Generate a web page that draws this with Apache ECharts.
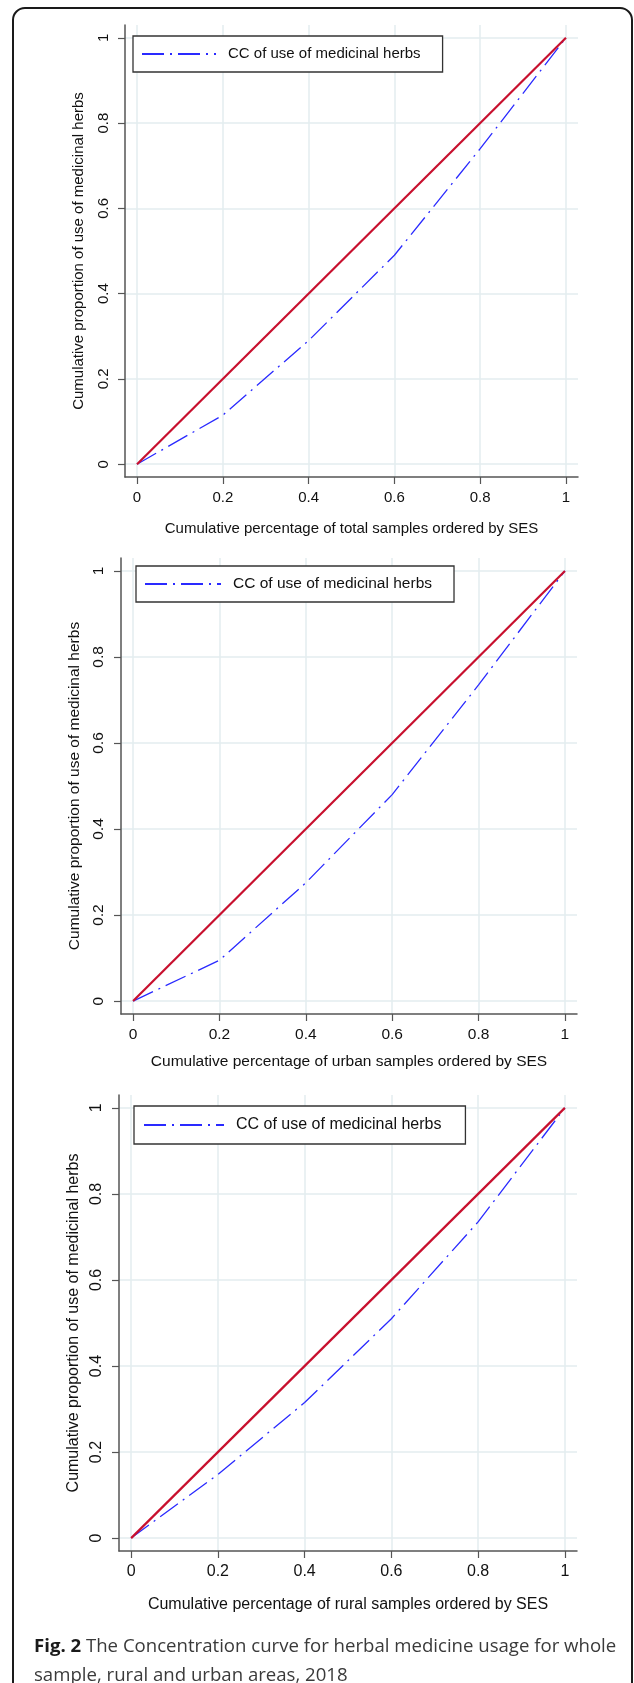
<!DOCTYPE html>
<html>
<head>
<meta charset="utf-8">
<script src="https://cdn.jsdelivr.net/npm/echarts@6/dist/echarts.min.js"></script>
<style>
  * { margin: 0; padding: 0; }
  body { background: #fff; }
  #chart { width: 634px; height: 1683px; }
</style>
</head>
<body>
<div id="chart"></div>
<script>
// cumulative share of population (quintiles of SES)
var xShares = [0, 0.2, 0.4, 0.6, 0.8, 1];
// concentration curve values
var totalCC = [0, 0.115, 0.29, 0.49, 0.74, 1];
var urbanCC = [0, 0.095, 0.275, 0.48, 0.735, 1];
var ruralCC = [0, 0.148, 0.315, 0.51, 0.735, 1];
// line of equality
var equalityX = [0, 1];
var equalityY = [0, 1];
var tickValues = [0, 0.2, 0.4, 0.6, 0.8, 1];

var ccName = 'CC of use of medicinal herbs';
var yTitle = 'Cumulative proportion of use of medicinal herbs';
var xTitles = [
  'Cumulative percentage of total samples ordered by SES',
  'Cumulative percentage of urban samples ordered by SES',
  'Cumulative percentage of rural samples ordered by SES'
];
var curves = [totalCC, urbanCC, ruralCC];

var font = "'Liberation Sans', Arial, sans-serif";
var axisColor = '#555';
var gridColor = '#e3edef';

// layout of each panel
var panels = [
  { left: 125, top: 25, width: 453, height: 452, fs: 15, xGap: 44, yGap: 39,
    legend: { left: 133, top: 36, itemWidth: 74, padding: [9, 22, 9, 8] } },
  { left: 121, top: 558, width: 456, height: 456, fs: 15.5, xGap: 40, yGap: 36,
    legend: { left: 136, top: 566, itemWidth: 76, padding: [9, 22, 9, 8] } },
  { left: 119, top: 1095, width: 458, height: 456, fs: 16, xGap: 46, yGap: 34,
    legend: { left: 134, top: 1106, itemWidth: 80, padding: [10, 24, 10, 9] } }
];

function pairs(xs, ys) {
  var out = [];
  for (var i = 0; i < xs.length; i++) out.push([xs[i], ys[i]]);
  return out;
}

var grids = [], xAxes = [], yAxes = [], series = [], legends = [];
panels.forEach(function (p, i) {
  grids.push({ left: p.left, top: p.top, width: p.width, height: p.height, containLabel: false });
  var common = {
    type: 'value',
    gridIndex: i,
    min: -0.028,
    max: 1.028,
    axisLine: { show: true, onZero: false, lineStyle: { color: axisColor, width: 1.5 } },
    axisTick: { show: true, length: 7, customValues: tickValues, lineStyle: { color: axisColor, width: 1.2 } },
    axisLabel: { customValues: tickValues, color: '#111', fontSize: p.fs, fontFamily: font },
    splitLine: { show: true, lineStyle: { color: gridColor, width: 1.5 } },
    nameLocation: 'middle',
    nameTextStyle: { color: '#111', fontSize: p.fs, fontFamily: font }
  };
  xAxes.push(Object.assign({}, common, {
    name: xTitles[i],
    nameGap: p.xGap,
    axisLabel: Object.assign({}, common.axisLabel, { margin: 13 })
  }));
  yAxes.push(Object.assign({}, common, {
    min: -0.03,
    max: 1.03,
    name: yTitle,
    nameGap: p.yGap,
    axisLabel: Object.assign({}, common.axisLabel, { rotate: 90, margin: 14 })
  }));
  series.push({
    name: ccName,
    type: 'line',
    xAxisIndex: i,
    yAxisIndex: i,
    data: pairs(xShares, curves[i]),
    symbol: 'none',
    lineStyle: { color: '#2a2aff', width: 1.3, type: [22, 6, 2, 6] },
    z: 2,
    silent: true
  });
  series.push({
    name: 'equality',
    type: 'line',
    xAxisIndex: i,
    yAxisIndex: i,
    data: pairs(equalityX, equalityY),
    symbol: 'none',
    lineStyle: { color: '#c8102e', width: 2.2 },
    z: 3,
    silent: true
  });
  legends.push({
    data: [ccName],
    left: p.legend.left,
    top: p.legend.top,
    orient: 'horizontal',
    itemWidth: p.legend.itemWidth,
    itemHeight: 14,
    padding: p.legend.padding,
    backgroundColor: '#fff',
    borderColor: '#333',
    borderWidth: 1.3,
    borderRadius: 0,
    selectedMode: false,
    itemStyle: { opacity: 0 },
    textStyle: { color: '#111', fontSize: p.fs, fontFamily: font, lineHeight: 18, padding: [0, 0, 0, 7] }
  });
});

var chart = echarts.init(document.getElementById('chart'), null, { renderer: 'canvas' });
chart.setOption({
  animation: false,
  backgroundColor: '#fff',
  grid: grids,
  xAxis: xAxes,
  yAxis: yAxes,
  legend: legends,
  series: series,
  title: {
    left: 29,
    top: 1627,
    text: '{b|Fig. 2} The Concentration curve for herbal medicine usage for whole\nsample, rural and urban areas, 2018',
    textStyle: {
      fontFamily: "'Open Sans', sans-serif",
      fontSize: 18.6,
      fontWeight: 'normal',
      color: '#3a3a3a',
      lineHeight: 29,
      rich: {
        b: { fontFamily: "'Open Sans', sans-serif", fontSize: 18.6, fontWeight: 'bold', color: '#1a1a1a', lineHeight: 29 }
      }
    }
  },
  graphic: [{
    type: 'rect',
    silent: true,
    shape: { x: 13, y: 8, width: 619, height: 1700, r: 12 },
    style: { fill: null, stroke: '#1a1a1a', lineWidth: 2 }
  }]
});
</script>
</body>
</html>
